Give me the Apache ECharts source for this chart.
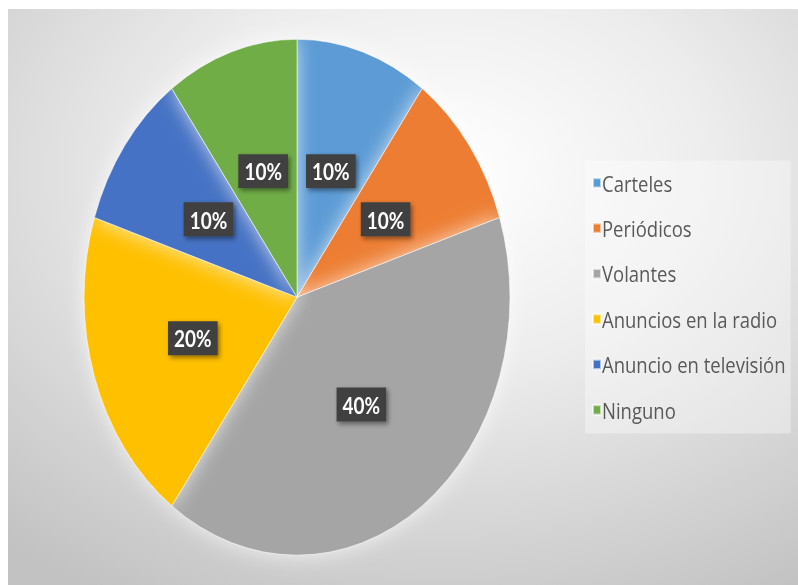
<!DOCTYPE html>
<html>
<head>
<meta charset="utf-8">
<script src="https://cdn.jsdelivr.net/npm/echarts@6/dist/echarts.min.js"></script>
<style>
  html, body { margin: 0; padding: 0; background: #ffffff; overflow: hidden; }
  body { width: 798px; height: 585px; position: relative; }
  /* the chart is drawn at a reduced height and stretched vertically,
     which gives the oval pie and the tall lettering */
  #chart {
    position: absolute; left: 8px; top: 9px;
    width: 790px; height: 476px;
    transform: scaleY(1.211); transform-origin: 0 0;
  }
</style>
</head>
<body>
<div id="chart"></div>
<script>
// Medios por los que se enteraron (porcentaje de respuestas)
const categories = ['Carteles', 'Periódicos', 'Volantes', 'Anuncios en la radio', 'Anuncio en televisión', 'Ninguno'];
const values = [10, 10, 40, 20, 10, 10];
const colors = ['#5B9BD5', '#ED7D31', '#A5A5A5', '#FFC000', '#4472C4', '#70AD47'];

const chart = echarts.init(document.getElementById('chart'), null, { renderer: 'svg' });

chart.setOption({
  animation: false,
  backgroundColor: {
    type: 'radial', x: 0.55, y: 0.28, r: 0.85,
    colorStops: [
      { offset: 0, color: '#ffffff' },
      { offset: 0.4, color: '#ededed' },
      { offset: 1, color: '#c2c2c2' }
    ]
  },
  color: colors,
  legend: {
    orient: 'vertical',
    left: 577, top: 125,
    padding: [9, 5, 10, 7],
    backgroundColor: 'rgba(255,255,255,0.35)',
    itemWidth: 8, itemHeight: 8, itemGap: 18.5,
    icon: 'rect',
    textStyle: {
      fontFamily: 'Open Sans', fontSize: 18.5, lineHeight: 16, color: '#595959',
      padding: [0, 0, 0, -4]
    },
    data: categories
  },
  series: [{
    type: 'pie',
    center: [289, 238],
    radius: 213,
    startAngle: 90,
    clockwise: true,
    itemStyle: {
      borderColor: 'rgba(255,255,255,0.6)', borderWidth: 0.8,
      shadowBlur: 18, shadowColor: 'rgba(255,255,255,0.7)'
    },
    label: {
      show: true,
      position: 'inside',
      formatter: '{c}%',
      fontFamily: 'Lato', fontWeight: 'bold', fontSize: 19,
      color: '#ffffff',
      backgroundColor: '#404040',
      padding: [5, 6, 4, 6],
      shadowBlur: 4, shadowOffsetX: 2, shadowOffsetY: 2,
      shadowColor: 'rgba(0,0,0,0.45)'
    },
    labelLine: { show: false },
    emphasis: { disabled: true },
    data: categories.map((name, i) => ({ name, value: values[i] }))
  }]
});
</script>
</body>
</html>
